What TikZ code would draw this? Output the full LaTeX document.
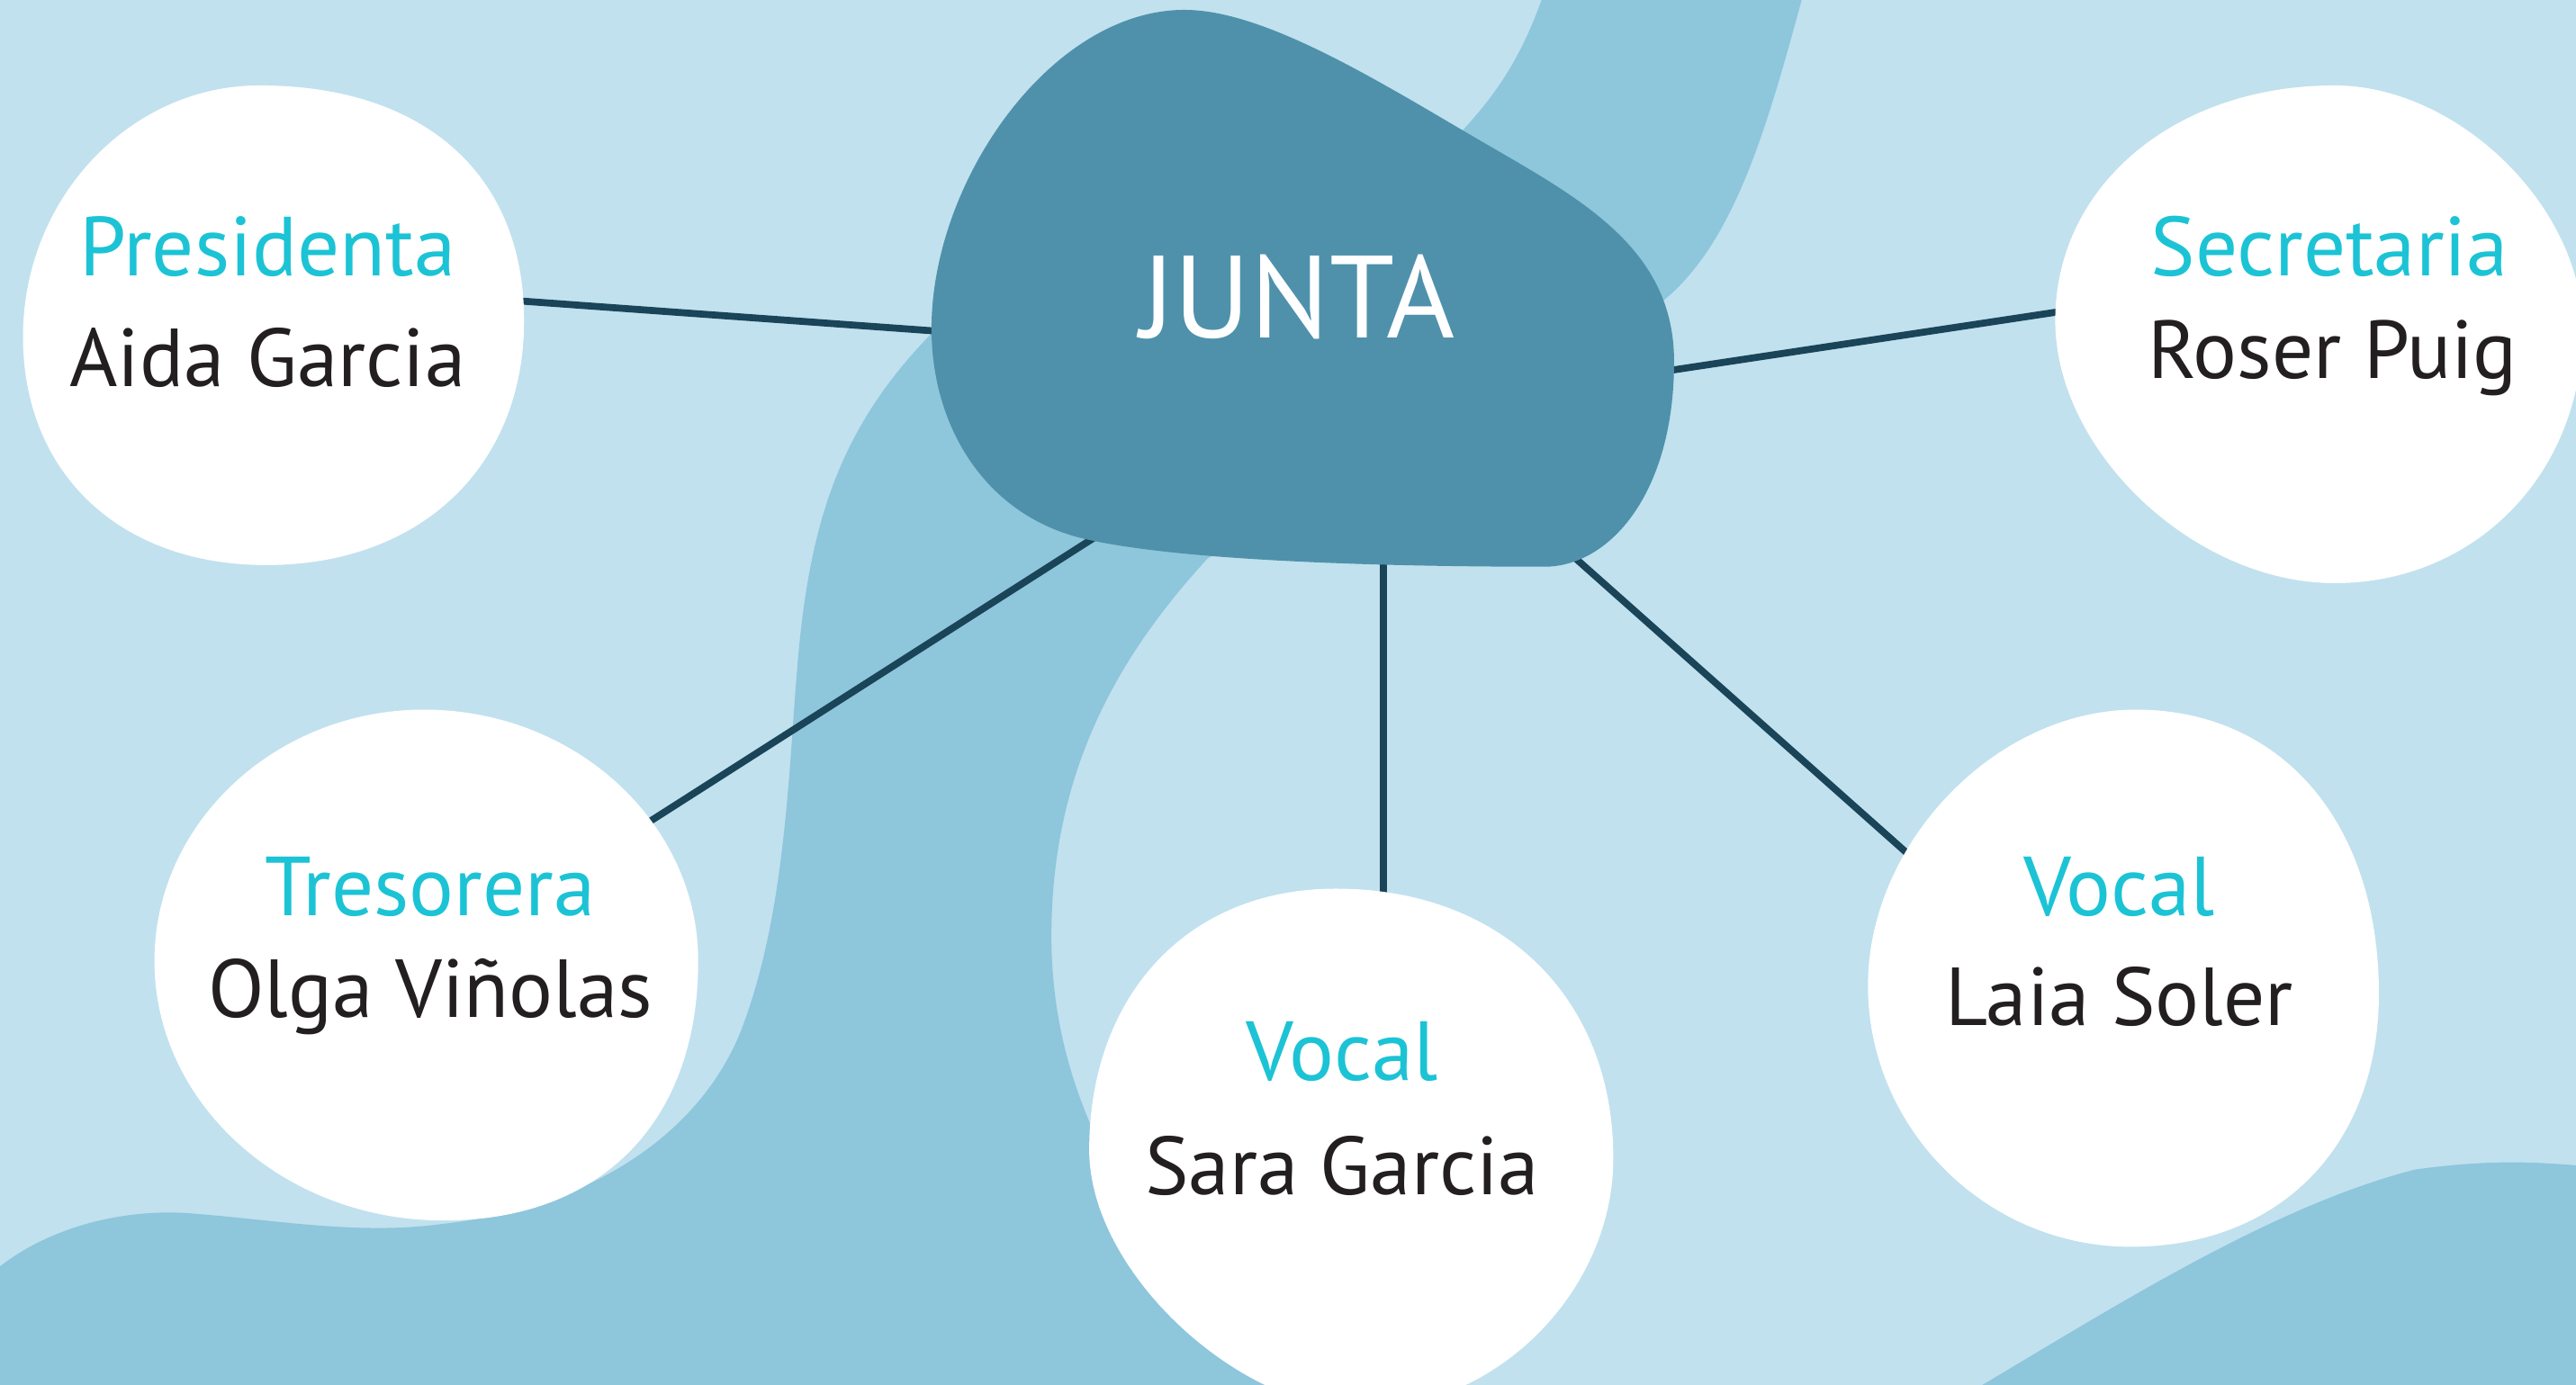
\documentclass[tikz,border=0pt]{standalone}
\usepackage{fontspec}
\setmainfont{PT Sans}
\definecolor{bgblue}{HTML}{C1E1EE}
\definecolor{bandblue}{HTML}{8EC6DC}
\definecolor{blobblue}{HTML}{4F91AB}
\definecolor{linkblue}{HTML}{1A4458}
\definecolor{rolecyan}{HTML}{1CC3D5}
\definecolor{nameblack}{HTML}{231F20}
\begin{document}
\begin{tikzpicture}[x=0.018253cm,y=-0.018253cm,
    role/.style={text=rolecyan,font=\fontsize{26.5}{30}\selectfont},
    person/.style={text=nameblack,font=\fontsize{26}{30}\selectfont},
    bubble/.style={fill=white},
    link/.style={draw=linkblue,line width=2.2pt}]
  \useasboundingbox (0,0) rectangle (1568,843);
  \clip (0,0) rectangle (1568,843);
  % background and waves
  \fill[bgblue] (0,0) rectangle (1568,843);
  \fill[bandblue] (940,-5) -- (1098,-5)
    .. controls (1075,80) and (1055,150) .. (1010,185) -- (735,340)
    .. controls (680,400) and (640,470) .. (640,570)
    .. controls (640,680) and (700,760) .. (780,850) -- (-5,850) -- (-5,775)
    .. controls (30,745) and (80,735) .. (120,739)
    .. controls (170,743) and (220,752) .. (270,745)
    .. controls (360,735) and (425,690) .. (450,630)
    .. controls (478,560) and (480,470) .. (485,410)
    .. controls (492,320) and (510,260) .. (570,200) -- (880,90)
    .. controls (905,65) and (925,40) .. (940,-5) -- cycle;
  \fill[bandblue] (1195,850) .. controls (1280,800) and (1380,735) .. (1470,712)
    .. controls (1520,705) and (1550,708) .. (1575,710) -- (1575,850) -- cycle;
  % link ends
  \coordinate (presEnd) at (300,182);
  \coordinate (presHub) at (590,203);
  \coordinate (secrEnd) at (1265,188);
  \coordinate (secrHub) at (1000,228);
  \coordinate (tresEnd) at (380,510);
  \coordinate (tresHub) at (690,312);
  \coordinate (saraEnd) at (842,560);
  \coordinate (saraHub) at (842,330);
  \coordinate (laiaEnd) at (1175,532);
  \coordinate (laiaHub) at (940,323);
  \begin{scope}[link]
    \draw (presEnd) -- (presHub);
    \draw (secrEnd) -- (secrHub);
    \draw (tresEnd) -- (tresHub);
    \draw (saraEnd) -- (saraHub);
    \draw (laiaEnd) -- (laiaHub);
  \end{scope}
  % hub
  \fill[blobblue] (567,200) .. controls (567,110) and (640,6) .. (721,6)
    .. controls (770,6) and (840,50) .. (900,85)
    .. controls (960,120) and (1019,150) .. (1019,220)
    .. controls (1019,300) and (980,345) .. (940,345)
    .. controls (850,345) and (720,342) .. (660,328)
    .. controls (600,314) and (567,260) .. (567,200) -- cycle;
  \node[text=white,font=\fontsize{37}{42}\selectfont] (junta) at (790,181) {JUNTA};
  % bubbles
  \fill[bubble] (158,52) .. controls (258,52) and (319,106) .. (319,195)
    .. controls (319,284) and (256,344) .. (162,344)
    .. controls (73,344) and (14,288) .. (14,205)
    .. controls (14,121) and (79,52) .. (158,52) -- cycle;
  \fill[bubble] (1421,52) .. controls (1496,52) and (1572,126) .. (1572,200)
    .. controls (1572,288) and (1507,355) .. (1421,355)
    .. controls (1336,355) and (1251,275) .. (1251,195)
    .. controls (1251,113) and (1324,52) .. (1421,52) -- cycle;
  \fill[bubble] (258,432) .. controls (350,432) and (425,501) .. (425,585)
    .. controls (425,683) and (366,743) .. (270,743)
    .. controls (173,743) and (94,672) .. (94,585)
    .. controls (94,501) and (168,432) .. (258,432) -- cycle;
  \fill[bubble] (813,541) .. controls (914,541) and (982,607) .. (982,705)
    .. controls (982,786) and (911,858) .. (828,858)
    .. controls (755,858) and (663,775) .. (663,700)
    .. controls (663,607) and (722,541) .. (813,541) -- cycle;
  \fill[bubble] (1300,432) .. controls (1389,432) and (1448,501) .. (1448,605)
    .. controls (1448,697) and (1388,759) .. (1297,759)
    .. controls (1209,759) and (1137,687) .. (1137,600)
    .. controls (1137,513) and (1215,432) .. (1300,432) -- cycle;
  % texts
  \node[role] (presRole) at (163,150) {Presidenta};
  \node[person] (presName) at (163,218) {Aida Garcia};
  \node[role] (secrRole) at (1418,150) {Secretaria};
  \node[person] (secrName) at (1420,218) {Roser Puig};
  \node[role] (tresRole) at (262,540) {Tresorera};
  \node[person] (tresName) at (262,607) {Olga Viñolas};
  \node[role] (saraRole) at (817,640) {Vocal};
  \node[person] (saraName) at (817,710) {Sara Garcia};
  \node[role] (laiaRole) at (1290,540) {Vocal};
  \node[person] (laiaName) at (1290,607) {Laia Soler};
\end{tikzpicture}
\end{document}
